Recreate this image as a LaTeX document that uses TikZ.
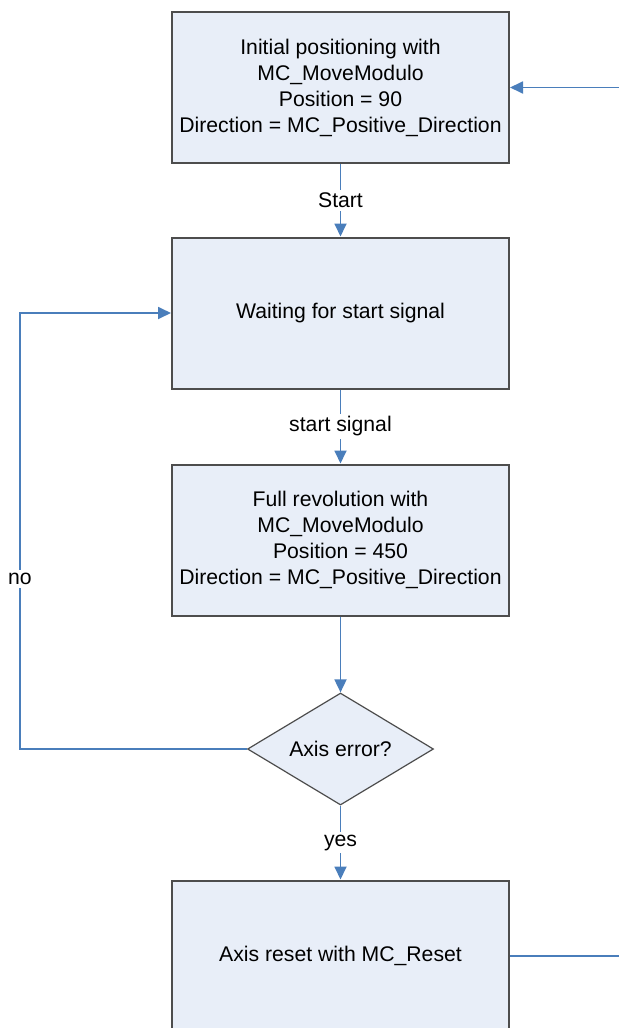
\documentclass[tikz,border=0pt]{standalone}
\usepackage{fontspec}
\setmainfont{Liberation Sans}
\usetikzlibrary{shapes.geometric,arrows.meta}

\definecolor{linkblue}{HTML}{4A7EBB}
\definecolor{boxfill}{HTML}{E8EEF8}
\definecolor{boxedge}{HTML}{4D4D4D}

\tikzset{
    box/.style={draw=boxedge, line width=1pt, fill=boxfill, align=center,
        minimum width=168.5pt, minimum height=75.5pt, inner sep=0pt},
    decision/.style={diamond, draw=boxedge, line width=0.6pt, fill=boxfill,
        minimum width=93pt, minimum height=56pt, aspect=1.66, inner sep=0pt},
    link/.style={draw=linkblue, line width=0.9pt, -{Triangle[length=6.5pt,width=6pt]}},
    lbl/.style={fill=white, inner sep=1.5pt},
}

\begin{document}
\begin{tikzpicture}[x=0.5pt, y=-0.5pt, every node/.append style={font=\fontsize{10.6}{13}\selectfont}]

    \clip (0,0) rectangle (619,1028);      % reference is cut at its edges

    \node[box] (init)  at (340.5,87.5) {Initial positioning with\\MC\_MoveModulo\\Position = 90\\Direction = MC\_Positive\_Direction};
    \node[box] (wait)  at (340.5,313)  {Waiting for start signal};
    \node[box] (rev)   at (340.5,540)  {Full revolution with\\MC\_MoveModulo\\Position = 450\\Direction = MC\_Positive\_Direction};
    \node[decision] (err) at (340.5,749) {Axis error?};
    \node[box] (reset) at (340.5,956)  {Axis reset with MC\_Reset};

    \coordinate (nolow)  at (20,749);
    \coordinate (noup)   at (20,313);
    \coordinate (backlo) at (640,956);     % return loop runs off the right edge
    \coordinate (backup) at (640,87.5);

    \draw[link] (init) -- node[lbl] {Start} (wait);
    \draw[link] (wait) -- node[lbl] {start signal} (rev);
    \draw[link] (rev) -- (err);
    \draw[link] (err) -- node[lbl] {yes} (reset);
    \draw[link] (err.west) -- (nolow) -- node[lbl, pos=0.39] {no} (noup) -- (wait.west);
    \draw[link] (reset.east) -- (backlo) -- (backup) -- (init.east);

\end{tikzpicture}
\end{document}
